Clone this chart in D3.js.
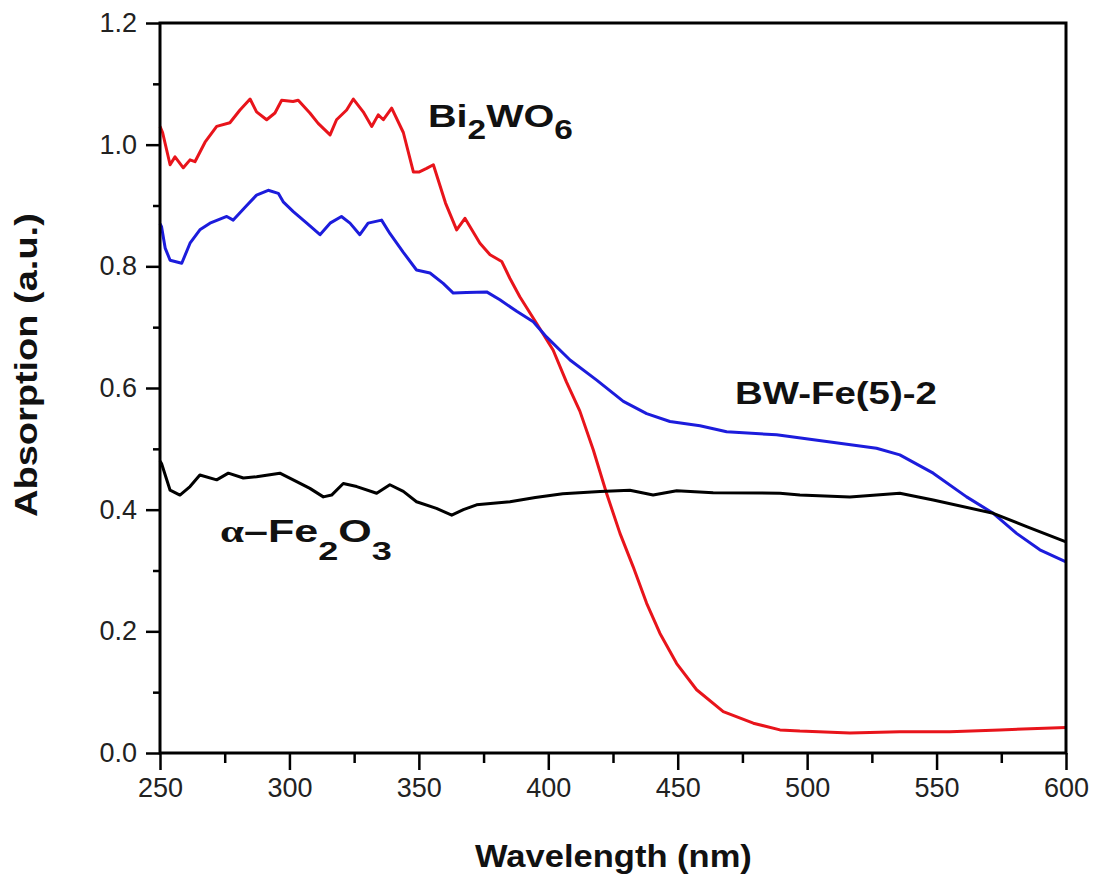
<!DOCTYPE html>
<html>
<head>
<meta charset="utf-8">
<script src="https://cdn.jsdelivr.net/npm/d3@7"></script>
<style>
  html, body { margin: 0; padding: 0; background: #fff; }
  svg { display: block; font-family: "Liberation Sans", Arial, sans-serif; }
</style>
</head>
<body>
<svg id="chart" width="1099" height="880"></svg>
<script>
// ---------- DATA ----------
const xTicks = [250, 300, 350, 400, 450, 500, 550, 600];
const xMinorTicks = [275, 325, 375, 425, 475, 525, 575];
const yTicks = [0.0, 0.2, 0.4, 0.6, 0.8, 1.0, 1.2];
const yMinorTicks = [0.1, 0.3, 0.5, 0.7, 0.9, 1.1];

// Bi2WO6 (red)
const bi2wo6Wavelength = [250, 251, 253.9, 255.8, 259, 261.6, 263.5, 267.4, 271.9, 277, 280.9, 284.8, 287.3, 291.2, 294.4, 297, 301.4, 303.4, 307.9, 311.1, 315.7, 318.2, 322.1, 324.7, 328.5, 331.8, 334.3, 336.3, 339.5, 344, 347.9, 350, 353, 355.6, 360.3, 364.6, 367.8, 373.6, 377.5, 382, 385.2, 389, 395.5, 401.9, 407, 412.2, 417.4, 422.5, 427.7, 432.8, 438, 443.1, 449.6, 457.3, 467.6, 479.2, 489.5, 497.2, 516.5, 535.8, 555.1, 574.4, 600];
const bi2wo6Absorption = [1.03, 1.02, 0.967, 0.98, 0.962, 0.975, 0.972, 1.004, 1.03, 1.036, 1.057, 1.075, 1.054, 1.041, 1.052, 1.073, 1.071, 1.073, 1.052, 1.035, 1.016, 1.041, 1.057, 1.075, 1.054, 1.03, 1.049, 1.041, 1.06, 1.02, 0.955, 0.955, 0.961, 0.967, 0.904, 0.86, 0.879, 0.838, 0.819, 0.808, 0.78, 0.75, 0.706, 0.662, 0.61, 0.562, 0.498, 0.427, 0.361, 0.306, 0.246, 0.197, 0.147, 0.104, 0.068, 0.049, 0.038, 0.036, 0.033, 0.035, 0.035, 0.038, 0.042];

// BW-Fe(5)-2 (blue)
const bwfeWavelength = [250, 250.6, 252, 253.9, 258.4, 261.6, 265.4, 269.3, 275.8, 278.3, 283.5, 287.3, 291.8, 295.7, 297.6, 301.5, 306.7, 311.8, 315.7, 320.1, 323.4, 327.2, 330.4, 335.6, 338.8, 344, 349.1, 354.3, 359.4, 363.3, 368.4, 376.2, 381.3, 387.8, 394.2, 399.3, 408.4, 418.7, 429, 438, 447, 458.6, 468.9, 488.2, 507.5, 526.8, 535.8, 548.7, 561.6, 571.9, 580.9, 589.9, 600];
const bwfeAbsorption = [0.87, 0.865, 0.83, 0.81, 0.805, 0.838, 0.86, 0.871, 0.882, 0.876, 0.9, 0.917, 0.925, 0.92, 0.906, 0.89, 0.871, 0.852, 0.871, 0.882, 0.871, 0.852, 0.871, 0.876, 0.854, 0.823, 0.794, 0.789, 0.772, 0.756, 0.757, 0.758, 0.745, 0.726, 0.709, 0.684, 0.646, 0.613, 0.578, 0.558, 0.545, 0.538, 0.528, 0.523, 0.512, 0.501, 0.49, 0.46, 0.421, 0.394, 0.361, 0.334, 0.314];

// alpha-Fe2O3 (black)
const fe2o3Wavelength = [250, 250.6, 253.9, 257.7, 261.6, 265.4, 271.9, 276.4, 282.2, 287.3, 296.3, 302.8, 307.9, 313.1, 316.3, 320.8, 326, 333.7, 338.8, 344, 349.1, 356.8, 362.7, 367.2, 372.3, 385.2, 395, 405.6, 420, 431.5, 440.5, 449.6, 463.7, 489.5, 497.2, 516.5, 535.8, 548.7, 571.9, 584.8, 600];
const fe2o3Absorption = [0.48, 0.476, 0.432, 0.424, 0.438, 0.457, 0.449, 0.46, 0.452, 0.454, 0.46, 0.446, 0.435, 0.421, 0.424, 0.443, 0.438, 0.427, 0.441, 0.43, 0.413, 0.402, 0.391, 0.4, 0.408, 0.413, 0.42, 0.426, 0.43, 0.432, 0.424, 0.431, 0.428, 0.427, 0.424, 0.421, 0.427, 0.416, 0.394, 0.372, 0.347];

const xTitle = "Wavelength (nm)";
const yTitle = "Absorption (a.u.)";

// ---------- LAYOUT ----------
const svg = d3.select("#chart");
const L = 160, R = 1066, T = 23, B = 753;
const x = d3.scaleLinear().domain([250, 600]).range([L, R]);
const y = d3.scaleLinear().domain([0, 1.2]).range([B, T]);
const tickFont = 27;

// series
const series = [
  { xs: bi2wo6Wavelength, ys: bi2wo6Absorption, color: "#e8141b" },
  { xs: bwfeWavelength, ys: bwfeAbsorption, color: "#1c1cdc" },
  { xs: fe2o3Wavelength, ys: fe2o3Absorption, color: "#000000" }
];
const line = d3.line().x(d => x(d[0])).y(d => y(d[1]));
const gLines = svg.append("g");
series.forEach(s => {
  const pts = s.xs.map((v, i) => [v, s.ys[i]]);
  gLines.append("path").datum(pts)
    .attr("d", line)
    .attr("fill", "none")
    .attr("stroke", s.color)
    .attr("stroke-width", 3)
    .attr("stroke-linejoin", "round");
});

// axes
function styleAxis(g) {
  g.select(".domain").remove();
  g.selectAll(".tick line").attr("stroke", "#000").attr("stroke-width", 2.5);
  g.selectAll(".tick text").attr("font-size", tickFont).attr("fill", "#222")
    .attr("font-family", "'Liberation Sans', Arial, sans-serif");
}
const xAxis = svg.append("g").attr("transform", `translate(0,${B})`)
  .call(d3.axisBottom(x).tickValues(xTicks).tickSize(17).tickPadding(8).tickFormat(d3.format("d")));
styleAxis(xAxis);
const xMinor = svg.append("g").attr("transform", `translate(0,${B})`)
  .call(d3.axisBottom(x).tickValues(xMinorTicks).tickSize(10).tickFormat(""));
styleAxis(xMinor);

const yAxis = svg.append("g").attr("transform", `translate(${L},0)`)
  .call(d3.axisLeft(y).tickValues(yTicks).tickSize(14).tickPadding(9).tickFormat(d3.format(".1f")));
styleAxis(yAxis);
const yMinor = svg.append("g").attr("transform", `translate(${L},0)`)
  .call(d3.axisLeft(y).tickValues(yMinorTicks).tickSize(7).tickFormat(""));
styleAxis(yMinor);

// frame
svg.append("rect").attr("x", L).attr("y", T).attr("width", R - L).attr("height", B - T)
  .attr("fill", "none").attr("stroke", "#000").attr("stroke-width", 3);

// helper to stretch a text group to a target width
function fitGroup(g, targetW) {
  const bb = g.node().getBBox();
  return targetW / bb.width;
}

// axis titles
const xt = svg.append("g");
const xtText = xt.append("text").attr("font-weight", "bold").attr("font-size", 32)
  .attr("fill", "#111").text(xTitle);
let sx = fitGroup(xt, 277);
xt.attr("transform", `translate(475,867) scale(${sx},1)`);

const yt = svg.append("g");
yt.append("text").attr("font-weight", "bold").attr("font-size", 31)
  .attr("fill", "#111").text(yTitle);
let sy = fitGroup(yt, 304);
yt.attr("transform", `translate(37,517) rotate(-90) scale(${sy},1)`);

// annotations
function label(parts, xPos, yBase, w, size, subSize, subDy) {
  const g = svg.append("g");
  const t = g.append("text").attr("font-weight", "bold").attr("font-size", size).attr("fill", "#111");
  let prevSub = false;
  parts.forEach(p => {
    const ts = t.append("tspan").text(p.t);
    if (p.family) ts.attr("font-family", p.family).attr("font-weight", p.weight || "bold");
    if (p.sub && !prevSub) ts.attr("dy", subDy).attr("font-size", subSize);
    else if (p.sub) ts.attr("font-size", subSize);
    else if (!p.sub && prevSub) ts.attr("dy", -subDy);
    prevSub = !!p.sub;
  });
  const s = fitGroup(g, w);
  g.attr("transform", `translate(${xPos},${yBase}) scale(${s},1)`);
}
label([{ t: "Bi" }, { t: "2", sub: true }, { t: "WO" }, { t: "6", sub: true }], 428, 127, 145, 32, 27, 12);
label([{ t: "BW-Fe(5)-2" }], 735, 404, 202, 32, 27, 0);
label([{ t: "α", family: "'Liberation Serif', serif", weight: "bold" }, { t: "–Fe" }, { t: "2", sub: true }, { t: "O" }, { t: "3", sub: true }], 220, 542, 172, 31, 26, 18);
</script>
</body>
</html>
